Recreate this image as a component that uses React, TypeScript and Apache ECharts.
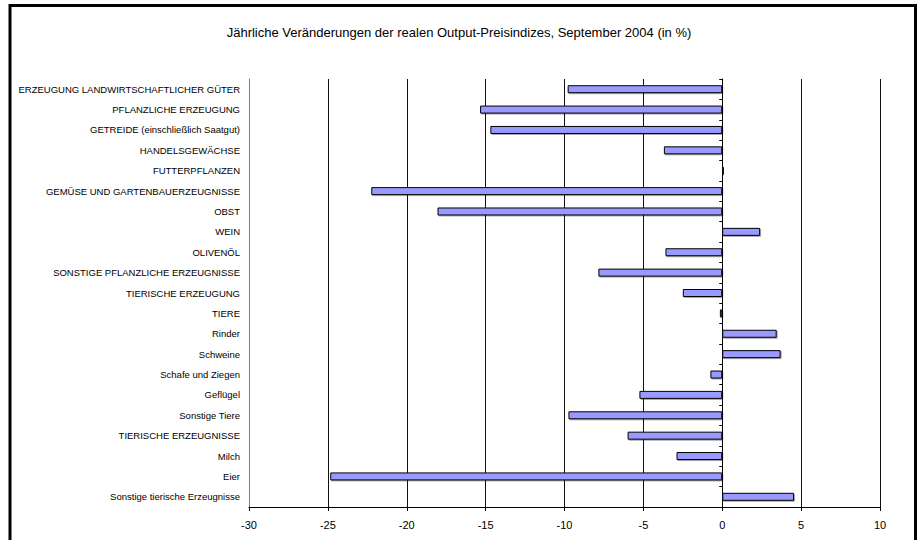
import React, { useEffect, useRef } from "react";
import * as echarts from "echarts";

const categories = [
  "ERZEUGUNG LANDWIRTSCHAFTLICHER GÜTER",
  "PFLANZLICHE ERZEUGUNG",
  "GETREIDE (einschließlich Saatgut)",
  "HANDELSGEWÄCHSE",
  "FUTTERPFLANZEN",
  "GEMÜSE UND GARTENBAUERZEUGNISSE",
  "OBST",
  "WEIN",
  "OLIVENÖL",
  "SONSTIGE PFLANZLICHE ERZEUGNISSE",
  "TIERISCHE ERZEUGUNG",
  "TIERE",
  "Rinder",
  "Schweine",
  "Schafe und Ziegen",
  "Geflügel",
  "Sonstige Tiere",
  "TIERISCHE ERZEUGNISSE",
  "Milch",
  "Eier",
  "Sonstige tierische Erzeugnisse",
];

const values = [
  -9.8, -15.35, -14.7, -3.7, 0.1, -22.25, -18.05, 2.4, -3.6, -7.85, -2.5,
  -0.15, 3.45, 3.7, -0.75, -5.25, -9.75, -6.0, -2.9, -24.85, 4.55,
];

const title =
  "Jährliche Veränderungen der realen Output-Preisindizes, September 2004 (in %)";

const FONT = "'Liberation Sans', Arial, sans-serif";

export default function App() {
  const ref = useRef<HTMLDivElement>(null);
  useEffect(() => {
    if (!ref.current) return;
    const chart = echarts.init(ref.current, undefined, { renderer: "svg" });
    chart.setOption({
      animation: false,
      backgroundColor: "#fff",
      textStyle: { fontFamily: FONT },
      title: {
        text: title,
        left: "center",
        top: 21,
        textStyle: { fontSize: 13, fontWeight: "normal", color: "#000", fontFamily: FONT },
      },
      graphic: [
        {
          type: "rect",
          shape: { x: 10, y: 5.5, width: 905.5, height: 545 },
          style: { fill: "none", stroke: "#000", lineWidth: 3 },
          silent: true,
        },
      ],
      grid: { left: 249, right: 38, top: 79, bottom: 33, containLabel: false },
      xAxis: {
        type: "value",
        min: -30,
        max: 10,
        interval: 5,
        axisLine: { show: true, lineStyle: { color: "#000", width: 1 } },
        axisTick: { show: true, length: 4, lineStyle: { color: "#000" } },
        axisLabel: { fontSize: 11, color: "#000", margin: 12, fontFamily: FONT },
        splitLine: { show: true, lineStyle: { color: "#111", width: 1 } },
      },
      yAxis: [
        {
          type: "category",
          data: categories,
          inverse: true,
          position: "left",
          axisLine: { show: true, onZero: false, lineStyle: { color: "#808080", width: 1 } },
          axisTick: { show: false },
          axisLabel: { fontSize: 9.5, color: "#000", margin: 9, fontFamily: FONT },
          splitLine: { show: false },
        },
        {
          type: "category",
          data: categories,
          inverse: true,
          position: "left",
          axisLine: { show: true, onZero: true, lineStyle: { color: "#000", width: 1 } },
          axisTick: { show: true, length: 3, lineStyle: { color: "#000" } },
          axisLabel: { show: false },
          splitLine: { show: false },
        },
      ],
      series: [
        {
          type: "bar",
          yAxisIndex: 0,
          data: values,
          barWidth: 8,
          itemStyle: {
            color: "#9999FF",
            borderColor: "#000",
            borderWidth: 1,
            shadowColor: "rgba(0,0,0,0.35)",
            shadowOffsetX: 1,
            shadowOffsetY: 1,
            shadowBlur: 0,
          },
        },
      ],
    });
    return () => chart.dispose();
  }, []);
  return (
    <div
      ref={ref}
      style={{ position: "fixed", left: 0, top: 0, width: 918, height: 540 }}
    />
  );
}
